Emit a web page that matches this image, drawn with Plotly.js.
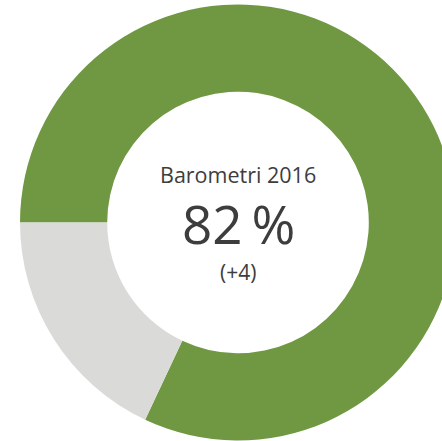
<!DOCTYPE html>
<html>
<head>
<meta charset="utf-8">
<script src="https://cdn.plot.ly/plotly-3.0.1.min.js"></script>
<style>
html,body{margin:0;padding:0;overflow:hidden;background:#fff;}
#chart{width:476px;height:441px;}
</style>
</head>
<body>
<div id="chart"></div>
<script>
const categories = ["Ja", "Nej"];
const values = [82, 18];
const colors = ["#709842", "#dadad9"];
const centerTitle = "Barometri 2016";
const centerValue = "82\u2009%";
const centerChange = "(+4)";

const textColor = "#3d3d3d";
const fontFam = "'Open Sans', 'Noto Sans', sans-serif";

Plotly.newPlot("chart", [{
  type: "pie",
  labels: categories,
  values: values,
  hole: 0.6,
  sort: false,
  direction: "clockwise",
  rotation: -90,
  marker: {colors: colors, line: {width: 0}},
  textinfo: "none",
  hoverinfo: "none"
}], {
  width: 476,
  height: 441,
  margin: {l: 20, r: 20, t: 4, b: 0, pad: 0},
  showlegend: false,
  paper_bgcolor: "#fff",
  annotations: [
    {text: centerTitle, x: 0.5, y: (441 - 175) / 437, xref: "paper", yref: "paper", showarrow: false, xanchor: "center", yanchor: "middle", font: {family: fontFam, size: 21.5, color: textColor}},
    {text: centerValue, x: 0.5, y: (441 - 223) / 437, xref: "paper", yref: "paper", showarrow: false, xanchor: "center", yanchor: "middle", font: {family: fontFam, size: 53, color: textColor}},
    {text: centerChange, x: 0.5, y: (441 - 272) / 437, xref: "paper", yref: "paper", showarrow: false, xanchor: "center", yanchor: "middle", font: {family: fontFam, size: 21, color: textColor}}
  ]
}, {staticPlot: true, displayModeBar: false});
</script>
</body>
</html>
